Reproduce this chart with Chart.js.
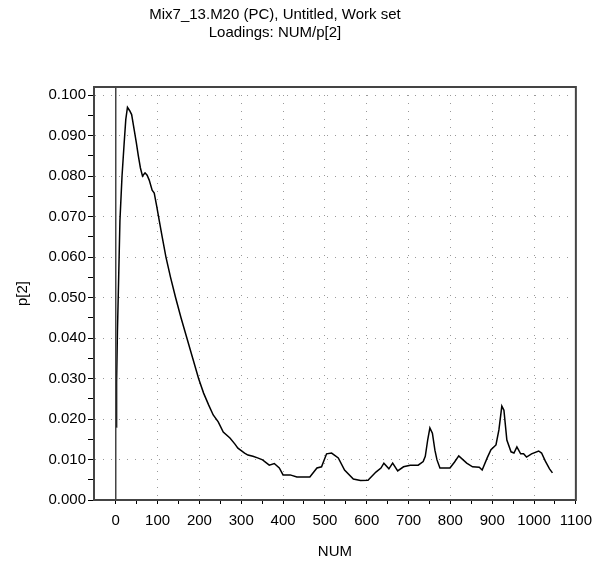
<!DOCTYPE html>
<html>
<head>
<meta charset="utf-8">
<script src="https://cdn.jsdelivr.net/npm/chart.js@4.4.1/dist/chart.umd.min.js"></script>
<style>
  html, body { margin: 0; padding: 0; background: #fff; }
  #wrap { width: 600px; height: 561px; }
</style>
</head>
<body>
<div id="wrap"><canvas id="loadingsChart"></canvas></div>
<script>
// p[2] loadings
const numValues = [
    1, 2, 4, 7, 10, 15, 20, 24, 28, 33, 38, 44, 49, 54, 59, 64, 70, 75, 80, 87,
    92, 98, 104, 111, 120, 131, 143, 156, 170, 184, 198, 210, 222, 233, 245, 257, 273, 285, 292, 300,
    308, 316, 328, 339, 351, 367, 379, 391, 400, 417, 433, 464, 481, 492, 504, 516, 532, 547, 568, 585,
    603, 622, 634, 641, 653, 662, 674, 688, 704, 723, 735, 740, 746, 751, 757, 763, 768, 775, 799, 810,
    820, 839, 853, 869, 876, 888, 897, 909, 916, 923, 928, 935, 945, 952, 959, 968, 975, 982, 994, 1011,
    1018, 1027, 1037, 1044
];
const p2Values = [
    0.0180, 0.0290, 0.0415, 0.0550, 0.0690, 0.0800, 0.0880, 0.0940, 0.0970, 0.0962, 0.0952, 0.0915, 0.0884, 0.0850, 0.0820, 0.0800, 0.0808, 0.0802, 0.0790, 0.0765,
    0.0758, 0.0725, 0.0690, 0.0650, 0.0600, 0.0550, 0.0500, 0.0450, 0.0400, 0.0350, 0.0300, 0.0264, 0.0235, 0.0210, 0.0193, 0.0168, 0.0153, 0.0138, 0.0128, 0.0122,
    0.0116, 0.0111, 0.0108, 0.0104, 0.0099, 0.0086, 0.0090, 0.0079, 0.0062, 0.0062, 0.0057, 0.0057, 0.0079, 0.0082, 0.0114, 0.0116, 0.0104, 0.0074, 0.0052, 0.0048,
    0.0049, 0.0069, 0.0079, 0.0091, 0.0077, 0.0091, 0.0072, 0.0082, 0.0086, 0.0086, 0.0095, 0.0108, 0.0150, 0.0178, 0.0165, 0.0123, 0.0099, 0.0079, 0.0079, 0.0094,
    0.0109, 0.0091, 0.0082, 0.0081, 0.0074, 0.0104, 0.0124, 0.0136, 0.0173, 0.0232, 0.0222, 0.0148, 0.0119, 0.0116, 0.0131, 0.0114, 0.0114, 0.0106, 0.0114, 0.0121,
    0.0116, 0.0096, 0.0077, 0.0067
];

const xMajorTicks = [0, 100, 200, 300, 400, 500, 600, 700, 800, 900, 1000, 1100];
const xMinorTicks = [50, 150, 250, 350, 450, 550, 650, 750, 850, 950, 1050];
const yMajorTicks = [0, 0.01, 0.02, 0.03, 0.04, 0.05, 0.06, 0.07, 0.08, 0.09, 0.1];
const yMinorTicks = [0.005, 0.015, 0.025, 0.035, 0.045, 0.055, 0.065, 0.075, 0.085, 0.095];

const titleLines = ['Mix7_13.M20 (PC), Untitled, Work set', 'Loadings: NUM/p[2]'];

const FONT = 'Arial, "Liberation Sans", sans-serif';
const FRAME = '#444';

const isMajor = (list, v) => list.some(m => Math.abs(m - v) < 1e-9);
const sortedTicks = (a, b) => a.concat(b).sort((p, q) => p - q).map(v => ({ value: v }));

// two-line heading, sits a bit left of the page centre like the original
const headingPlugin = {
    id: 'heading',
    afterDraw(chart) {
        const { ctx } = chart;
        ctx.save();
        ctx.fillStyle = '#000';
        ctx.font = '15px ' + FONT;
        ctx.textAlign = 'center';
        ctx.textBaseline = 'middle';
        titleLines.forEach((line, i) => ctx.fillText(line, 275, 15 + i * 18));
        ctx.restore();
    }
};

// box round the plot plus the solid line at NUM = 0
const framePlugin = {
    id: 'frame',
    afterDatasetsDraw(chart) {
        const { ctx, chartArea: a, scales } = chart;
        const x0 = scales.x.getPixelForValue(0);
        ctx.save();
        ctx.strokeStyle = FRAME;
        ctx.lineWidth = 1.5;
        ctx.beginPath();
        ctx.moveTo(x0, a.top);
        ctx.lineTo(x0, a.bottom);
        ctx.stroke();
        ctx.lineWidth = 2;
        ctx.strokeRect(a.left, a.top, a.right - a.left, a.bottom - a.top);
        ctx.restore();
    }
};

const points = numValues.map((x, i) => ({ x, y: p2Values[i] }));

new Chart(document.getElementById('loadingsChart'), {
    type: 'scatter',
    data: {
        datasets: [{
            label: 'p[2]',
            data: points,
            showLine: true,
            borderColor: '#000',
            borderWidth: 1.5,
            pointRadius: 0,
            tension: 0
        }]
    },
    options: {
        responsive: true,
        maintainAspectRatio: false,
        animation: false,
        layout: { padding: { left: 0, right: 17, top: 87, bottom: 0 } },
        plugins: {
            legend: { display: false },
            tooltip: { enabled: false },
            title: { display: false }
        },
        scales: {
            x: {
                type: 'linear',
                min: -52,
                max: 1100,
                afterBuildTicks: s => { s.ticks = sortedTicks(xMajorTicks, xMinorTicks); },
                afterFit: s => { s.height = 61; },
                ticks: {
                    color: '#000',
                    font: { family: FONT, size: 15 },
                    padding: 8,
                    maxRotation: 0,
                    autoSkip: false,
                    callback: v => isMajor(xMajorTicks, v) ? String(v) : ''
                },
                grid: {
                    color: c => isMajor(xMajorTicks, c.tick.value) ? '#999' : 'rgba(0,0,0,0)',
                    tickColor: '#000',
                    tickLength: 4,
                    lineWidth: 1
                },
                border: { color: FRAME, width: 2, dash: [1, 7] },
                title: {
                    display: true,
                    text: 'NUM',
                    color: '#000',
                    font: { family: FONT, size: 15 },
                    padding: { top: 0, bottom: 0 }
                }
            },
            y: {
                type: 'linear',
                min: 0,
                max: 0.102,
                afterBuildTicks: s => { s.ticks = sortedTicks(yMajorTicks, yMinorTicks); },
                afterFit: s => { s.width = 94; },
                ticks: {
                    color: '#000',
                    font: { family: FONT, size: 15 },
                    padding: 2,
                    autoSkip: false,
                    callback: v => isMajor(yMajorTicks, v) ? v.toFixed(3) : ''
                },
                grid: {
                    color: c => isMajor(yMajorTicks, c.tick.value) ? '#999' : 'rgba(0,0,0,0)',
                    tickColor: '#000',
                    tickLength: 6,
                    lineWidth: 1
                },
                border: { color: FRAME, width: 2, dash: [1, 7] },
                title: {
                    display: true,
                    text: 'p[2]',
                    color: '#000',
                    font: { family: FONT, size: 15 },
                    padding: { top: 14, bottom: 0 }
                }
            }
        }
    },
    plugins: [headingPlugin, framePlugin]
});
</script>
</body>
</html>
